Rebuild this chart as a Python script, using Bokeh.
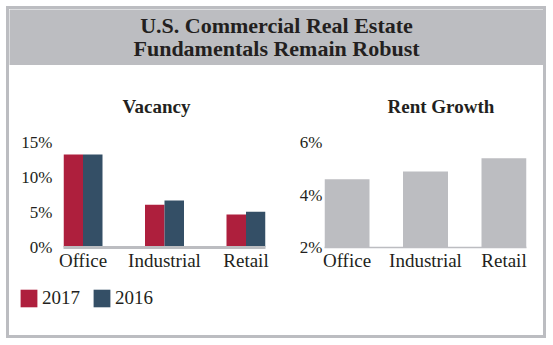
from bokeh.plotting import figure
from bokeh.models import Range1d, FixedTicker, Legend, LegendItem, Label, Spacer, ColumnDataSource
from bokeh.layouts import column, row
from bokeh.transform import dodge
from bokeh.embed import file_html
from bokeh.resources import INLINE

# ---- data ----
categories = ["Office", "Industrial", "Retail"]
vacancy_2017 = [13.3, 6.1, 4.7]
vacancy_2016 = [13.3, 6.7, 5.1]
rent_growth = [4.6, 4.9, 5.4]
vac_ticks = [0, 5, 10, 15]
vac_tick_labels = ["0%", "5%", "10%", "15%"]
rent_ticks = [2, 4, 6]
rent_tick_labels = ["2%", "4%", "6%"]
series_names = ["2017", "2016"]
header_lines = ["U.S. Commercial Real Estate", "Fundamentals Remain Robust"]
chart_titles = ["Vacancy", "Rent Growth"]

# ---- style ----
FONT = "Liberation Serif"
TEXT = "#231f20"
GRAY = "#bcbdc1"
RED = "#ae1f3d"
NAVY = "#344f66"
CHART_H = 213

xs = list(range(len(categories)))


def chart(width, left, right, x_half, y_lo, y_hi, ticks, tick_labels, title,
          line_w, label_standoff, title_offset):
    p = figure(width=width, height=CHART_H, output_backend="svg", toolbar_location=None,
               x_range=Range1d(-x_half, xs[-1] + x_half), y_range=Range1d(y_lo, y_hi),
               min_border_left=left, min_border_right=right,
               min_border_top=77, min_border_bottom=31, title=title)
    p.outline_line_color = None
    p.background_fill_color = "white"
    p.border_fill_color = "white"
    p.xgrid.visible = False
    p.ygrid.visible = False
    p.title.align = "left"
    p.title.offset = title_offset
    p.title.text_font = FONT
    p.title.text_font_size = "19px"
    p.title.text_font_style = "bold"
    p.title.text_color = TEXT
    p.title.standoff = 52
    xa = p.xaxis[0]
    xa.ticker = FixedTicker(ticks=xs)
    xa.major_label_overrides = {i: c for i, c in zip(xs, categories)}
    xa.major_tick_out = 0
    xa.major_tick_in = 0
    xa.minor_tick_out = 0
    xa.minor_tick_in = 0
    xa.axis_line_color = GRAY
    xa.axis_line_width = line_w
    xa.major_label_standoff = 2
    xa.major_label_text_font = FONT
    xa.major_label_text_font_size = "19px"
    xa.major_label_text_color = TEXT
    ya = p.yaxis[0]
    ya.ticker = FixedTicker(ticks=ticks)
    ya.major_label_overrides = {t: l for t, l in zip(ticks, tick_labels)}
    ya.major_tick_out = 0
    ya.major_tick_in = 0
    ya.minor_tick_out = 0
    ya.minor_tick_in = 0
    ya.axis_line_color = None
    ya.major_label_standoff = label_standoff
    ya.major_label_text_font = FONT
    ya.major_label_text_font_size = "17px"
    ya.major_label_text_color = TEXT
    return p


# Vacancy: grouped bars
vac_half = 19.5 / 81.5
vac = chart(271, 54, 15, vac_half, vac_ticks[0], vac_ticks[-1], vac_ticks, vac_tick_labels,
            chart_titles[0], 3, 11, 59)
src = ColumnDataSource(dict(x=xs, v17=vacancy_2017, v16=vacancy_2016))
vac.vbar(x=dodge("x", -vac_half / 2, range=vac.x_range), top="v17", bottom=0,
         width=vac_half, source=src, fill_color=RED, line_color=None)
vac.vbar(x=dodge("x", vac_half / 2, range=vac.x_range), top="v16", bottom=0,
         width=vac_half, source=src, fill_color=NAVY, line_color=None)

# Rent growth
rent_half = 22.5 / 78.5
rent = chart(263, 44, 17, rent_half, rent_ticks[0], rent_ticks[-1], rent_ticks, rent_tick_labels,
             chart_titles[1], 1.5, 2, 63)
rsrc = ColumnDataSource(dict(x=xs, g=rent_growth))
rent.vbar(x="x", top="g", bottom=rent_ticks[0], width=2 * rent_half, source=rsrc,
          fill_color=GRAY, line_color=None)

# Legend strip (legend swatches are taken from the vacancy series, kept hidden here)
leg = figure(width=534, height=57, output_backend="svg", toolbar_location=None,
             x_range=Range1d(0, 1), y_range=Range1d(0, 1), min_border=0,
             x_axis_location=None, y_axis_location=None)
leg.outline_line_color = None
leg.xgrid.visible = False
leg.ygrid.visible = False
l17 = leg.vbar(x="x", top="v17", width=0.1, source=src, fill_color=RED, line_color=None,
               visible=False)
l16 = leg.vbar(x="x", top="v16", width=0.1, source=src, fill_color=NAVY, line_color=None,
               visible=False)
legend = Legend(items=[LegendItem(label=series_names[0], renderers=[l17]),
                       LegendItem(label=series_names[1], renderers=[l16])],
                orientation="horizontal", location="top_left", margin=9, padding=0,
                spacing=11, glyph_width=21, glyph_height=22, label_standoff=3,
                click_policy="none",
                label_text_font=FONT, label_text_font_size="19px", label_text_color=TEXT,
                border_line_color=None, background_fill_alpha=0)
leg.add_layout(legend)

# Header
head = figure(width=534, height=56, output_backend="svg", toolbar_location=None,
              x_range=Range1d(0, 1), y_range=Range1d(0, 1), min_border=0,
              x_axis_location=None, y_axis_location=None)
head.outline_line_color = None
head.background_fill_color = GRAY
head.border_fill_color = GRAY
head.xgrid.visible = False
head.ygrid.visible = False
for txt, yy in zip(header_lines, [0.7143, 0.3125]):
    head.add_layout(Label(x=0.5, y=yy, text=txt, text_align="center", text_baseline="middle",
                          text_font=FONT, text_font_size="22px", text_font_style="bold",
                          text_color=TEXT))

inner = column(head, row(vac, rent), leg, styles={"border": f"3px solid {GRAY}"})
layout = column(Spacer(height=6), row(Spacer(width=6), inner))

open("out.html", "w").write(file_html(layout, INLINE))
